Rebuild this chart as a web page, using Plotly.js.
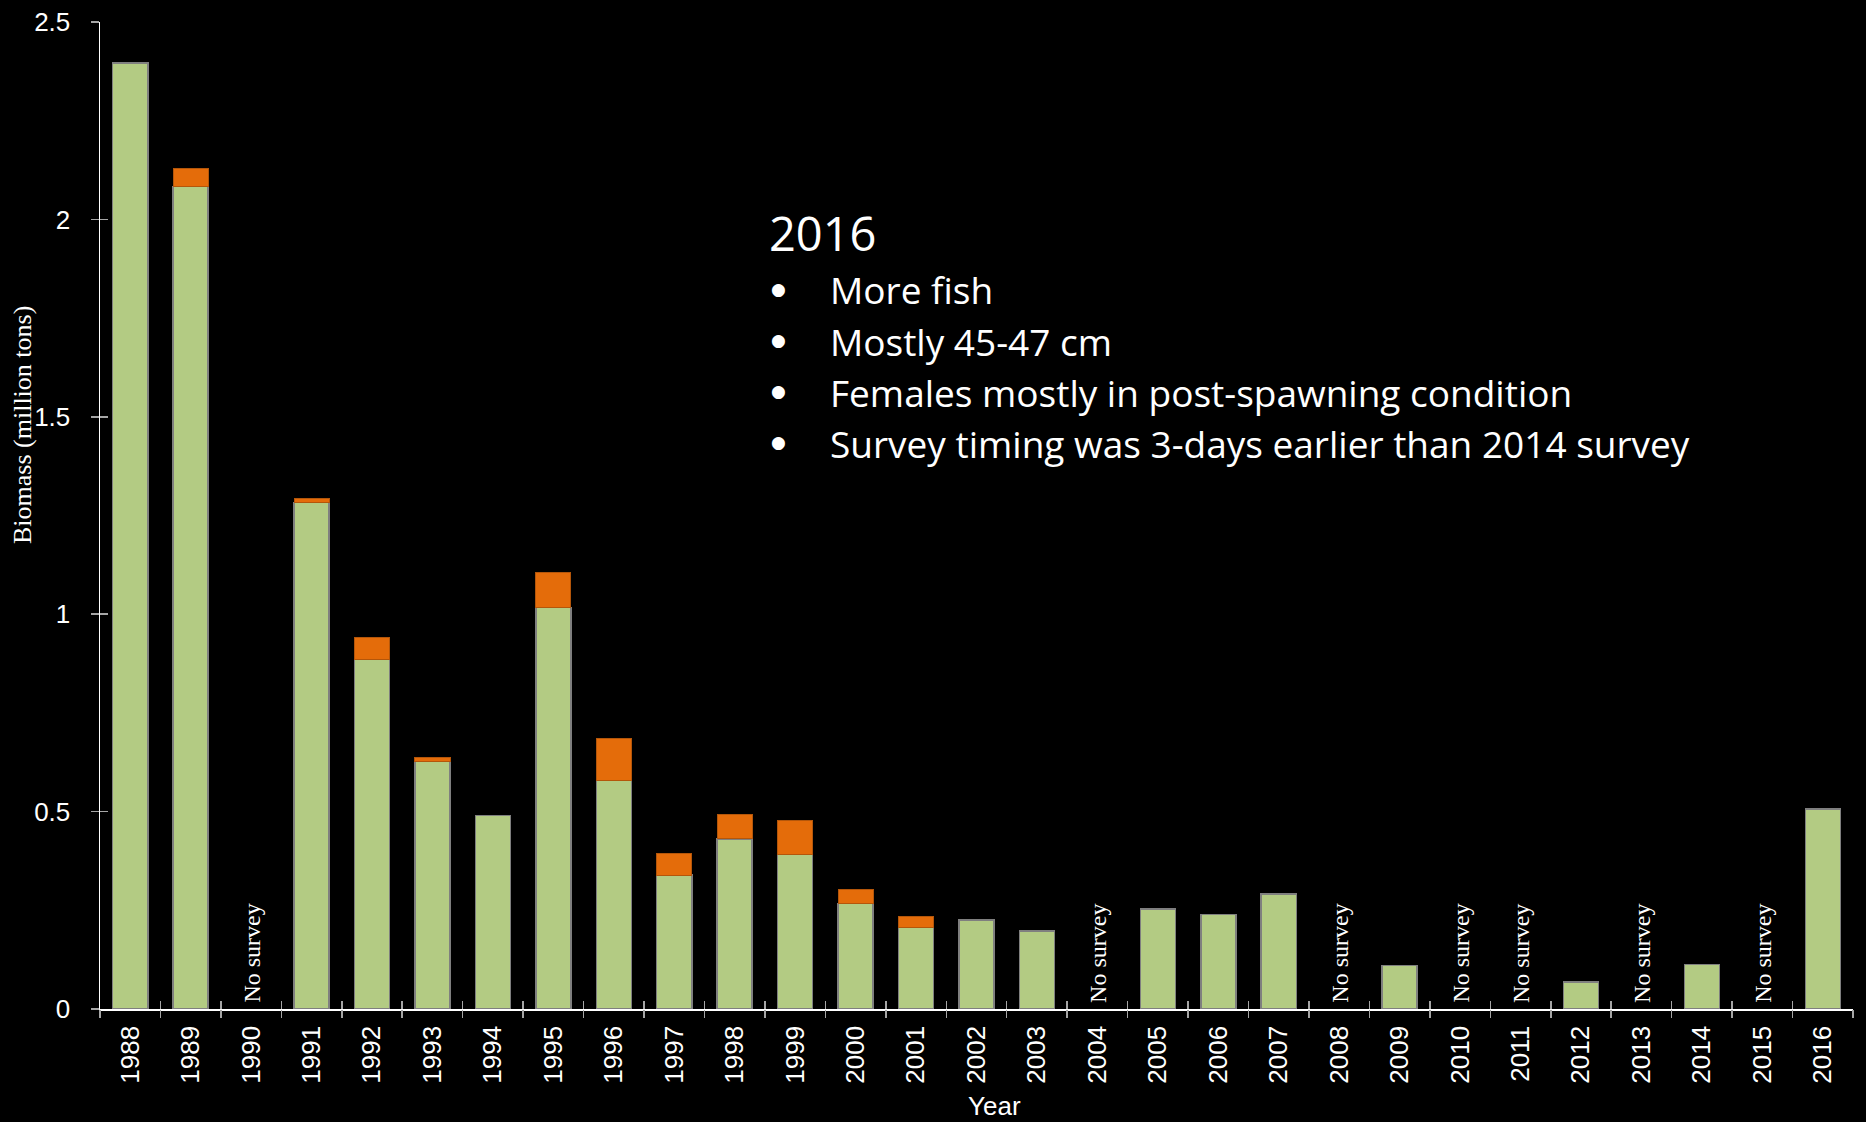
<!DOCTYPE html>
<html>
<head>
<meta charset="utf-8">
<script src="https://cdn.plot.ly/plotly-3.0.1.min.js"></script>
<style>
  html, body { margin: 0; padding: 0; background: #000; }
  #chart { width: 1866px; height: 1122px; }
</style>
</head>
<body>
<div id="chart"></div>
<script>
// ---- data (million tons) ----
const years = [1988,1989,1990,1991,1992,1993,1994,1995,1996,1997,1998,1999,2000,2001,2002,2003,2004,2005,2006,2007,2008,2009,2010,2011,2012,2013,2014,2015,2016];
const greenValues = [2.396,2.083,null,1.283,0.886,0.628,0.490,1.017,0.580,0.339,0.431,0.391,0.267,0.206,0.226,0.198,null,0.253,0.240,0.291,null,0.110,null,null,0.068,null,0.113,null,0.506];
const orangeValues = [null,0.046,null,0.009,0.054,0.009,null,0.089,0.104,0.055,0.062,0.087,0.036,0.028,null,null,null,null,null,null,null,null,null,null,null,null,null,null,null];
const noSurveyLabel = "No survey";
const noteTitle = "2016";
const noteBullets = [
  "More fish",
  "Mostly 45-47 cm",
  "Females mostly in post-spawning condition",
  "Survey timing was 3-days earlier than 2014 survey"
];
const yTitle = "Biomass (million tons)";
const xTitle = "Year";

// ---- layout geometry (pixels) ----
const W = 1866, H = 1122;
const M = {l: 100, r: 13, t: 22, b: 113};
const plotW = W - M.l - M.r, plotH = H - M.t - M.b;
const px = x => (x - M.l) / plotW;
const py = y => (H - M.b - y) / plotH;

const GREEN = "#b3cb83";
const ORANGE = "#e46c0a";
const TICKC = "#a6a6a6";
const sans = "Liberation Sans, Arial, sans-serif";
const serif = "Liberation Serif, Times New Roman, serif";
const note = "Open Sans, Noto Sans, sans-serif";

const traces = [
  {
    type: "bar", x: years, y: greenValues, name: "green",
    marker: {color: GREEN, line: {color: "#7f7f7f", width: 1.5}},
    hoverinfo: "x+y"
  },
  {
    type: "bar", x: years, y: orangeValues, name: "orange",
    marker: {color: ORANGE, line: {color: "#b4560a", width: 1}},
    hoverinfo: "x+y"
  },
  // empty helper traces so the overlay tick axes are drawn
  {type: "scatter", x: [], y: [], xaxis: "x2", yaxis: "y", hoverinfo: "skip"},
  {type: "scatter", x: [], y: [], xaxis: "x3", yaxis: "y", hoverinfo: "skip"},
  {type: "scatter", x: [], y: [], xaxis: "x", yaxis: "y2", hoverinfo: "skip"}
];

const annotations = [];
years.forEach((yr, i) => {
  if (greenValues[i] === null) {
    annotations.push({
      x: yr, y: 0, xref: "x", yref: "y",
      text: noSurveyLabel, showarrow: false, textangle: -90,
      xanchor: "center", yanchor: "bottom", yshift: 4,
      font: {family: serif, size: 24, color: "#ffffff"}
    });
  }
});
annotations.push({
  xref: "paper", yref: "paper", x: px(23), y: py(425),
  text: yTitle, showarrow: false, textangle: -90,
  xanchor: "center", yanchor: "middle",
  font: {family: serif, size: 26, color: "#ffffff"}
});
annotations.push({
  xref: "paper", yref: "paper", x: px(995), y: py(1106),
  text: xTitle, showarrow: false,
  xanchor: "center", yanchor: "middle",
  font: {family: sans, size: 26, color: "#ffffff"}
});
annotations.push({
  xref: "paper", yref: "paper", x: px(767), y: py(233),
  text: noteTitle, showarrow: false,
  xanchor: "left", yanchor: "middle",
  font: {family: note, size: 47, color: "#ffffff"}
});
const lineCenters = [290, 341, 392, 443];
noteBullets.forEach((t, i) => {
  annotations.push({
    xref: "paper", yref: "paper", x: px(778), y: py(lineCenters[i] - 1),
    text: "\u25CF", showarrow: false,
    xanchor: "center", yanchor: "middle",
    font: {family: "DejaVu Sans, sans-serif", size: 17, color: "#ffffff"}
  });
  annotations.push({
    xref: "paper", yref: "paper", x: px(828), y: py(lineCenters[i]),
    text: t, showarrow: false,
    xanchor: "left", yanchor: "middle",
    font: {family: note, size: 37, color: "#ffffff"}
  });
});

const xr = [years[0] - 0.5, years[years.length - 1] + 0.5];
const layout = {
  width: W, height: H,
  margin: M,
  paper_bgcolor: "#000000", plot_bgcolor: "#000000",
  barmode: "stack", bargap: 0.42,
  showlegend: false,
  font: {family: sans, color: "#ffffff"},
  xaxis: {
    type: "linear", range: xr, fixedrange: true,
    tickmode: "array", tickvals: years, ticktext: years.map(String),
    ticks: "", ticklen: 0, tickangle: -90, ticklabelstandoff: 5,
    tickfont: {family: sans, size: 26, color: "#ffffff"},
    showline: true, linecolor: "#ffffff", linewidth: 1.5,
    showgrid: false, zeroline: false
  },
  xaxis2: {
    type: "linear", range: xr, overlaying: "x", anchor: "y",
    tickmode: "linear", tick0: xr[0], dtick: 1,
    ticks: "outside", ticklen: 8, tickwidth: 1.5, tickcolor: TICKC,
    showticklabels: false, showline: false, showgrid: false, zeroline: false
  },
  xaxis3: {
    type: "linear", range: xr, overlaying: "x", anchor: "y",
    tickmode: "linear", tick0: xr[0], dtick: 1,
    ticks: "inside", ticklen: 8, tickwidth: 1.5, tickcolor: TICKC,
    showticklabels: false, showline: false, showgrid: false, zeroline: false
  },
  yaxis: {
    range: [0, 2.5], tickmode: "linear", tick0: 0, dtick: 0.5,
    ticks: "outside", ticklen: 8, tickwidth: 1.5, tickcolor: TICKC,
    ticklabelstandoff: 15,
    tickfont: {family: sans, size: 26, color: "#ffffff"},
    showline: true, linecolor: "#ffffff", linewidth: 1.5,
    showgrid: false, zeroline: false
  },
  yaxis2: {
    range: [0, 2.5], overlaying: "y", anchor: "x",
    tickmode: "linear", tick0: 0, dtick: 0.5,
    ticks: "inside", ticklen: 8, tickwidth: 1.5, tickcolor: TICKC,
    showticklabels: false, showline: false, showgrid: false, zeroline: false
  },
  annotations: annotations
};

Plotly.newPlot("chart", traces, layout, {displayModeBar: false, staticPlot: true});
</script>
</body>
</html>
